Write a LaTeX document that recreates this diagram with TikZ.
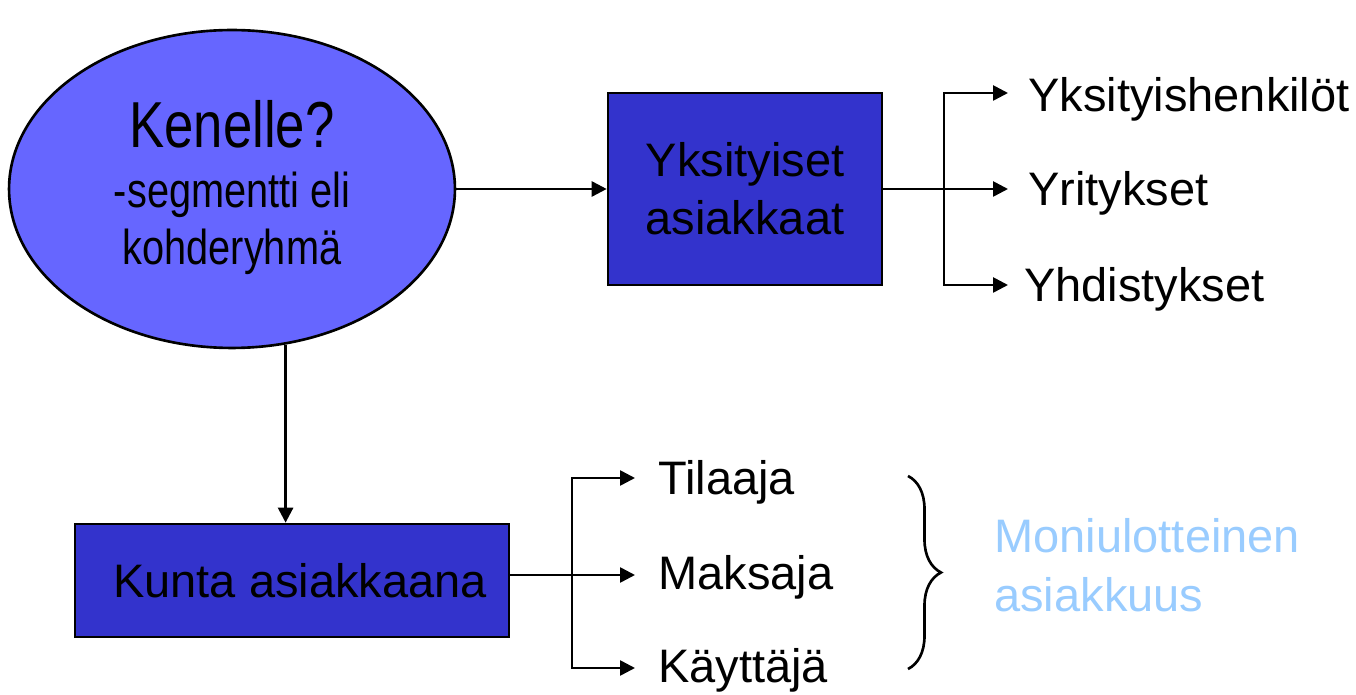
\documentclass[tikz,border=0pt]{standalone}
\usepackage{fontspec}
\setmainfont{Liberation Sans}
\newfontfamily\narrowsans[FakeStretch=0.81]{Liberation Sans}
\usetikzlibrary{arrows.meta,shapes.geometric,decorations.pathreplacing}
\definecolor{ellblue}{HTML}{6666FF}
\definecolor{boxblue}{HTML}{3333CC}
\definecolor{paleblue}{HTML}{99CCFF}

\begin{document}
\begin{tikzpicture}[x=0.02cm,y=-0.02cm,line width=1.5pt,
    >={Triangle[length=0.3cm,width=0.3cm]},
    txt/.style={font=\fontsize{26.75pt}{33pt}\selectfont,inner sep=0pt},
    ovaltxt/.style={font=\narrowsans\fontsize{27.9pt}{32pt}\selectfont,inner sep=0pt,anchor=base},
    bluebox/.style={draw,fill=boxblue,inner sep=0pt,align=center}]
    \useasboundingbox (0,0) rectangle (1356,695);

    % Ellipse
    \node[ellipse,draw,fill=ellblue,minimum width=8.92cm,minimum height=6.36cm,inner sep=0pt] (seg) at (232,189) {};
    \node[ovaltxt,font=\narrowsans\fontsize{37pt}{40pt}\selectfont] (kenelle) at (232,148) {Kenelle?};
    \node[ovaltxt] (segm) at (232,208) {-segmentti eli};
    \node[ovaltxt] (kohde) at (232,265) {kohderyhmä};

    % Boxes
    \node[bluebox,txt,minimum width=5.48cm,minimum height=3.84cm] (yks) at (745,189) {Yksityiset\\asiakkaat};
    \node[bluebox,minimum width=8.68cm,minimum height=2.26cm] (kunta) at (292,580.5) {};
    \node[txt,anchor=base] (kuntatxt) at (300,598) {Kunta asiakkaana};

    % Leaves
    \node[txt,anchor=base west] (henk) at (1027,112) {Yksityishenkilöt};
    \node[txt,anchor=base west] (yrit) at (1027,206) {Yritykset};
    \node[txt,anchor=base west] (yhd) at (1023,302) {Yhdistykset};
    \node[txt,anchor=base west] (tilaaja) at (657,495) {Tilaaja};
    \node[txt,anchor=base west] (maksaja) at (657,590) {Maksaja};
    \node[txt,anchor=base west] (kayttaja) at (657,683) {Käyttäjä};
    \node[txt,anchor=west,align=left,text=paleblue,font=\fontsize{26.75pt}{33.6pt}\selectfont] (moni) at (993,565.5) {Moniulotteinen\\asiakkuus};

    % Arrow ends
    \coordinate (yfork) at (944,189);
    \coordinate (t1) at (1008,93);
    \coordinate (t2) at (1008,189);
    \coordinate (t3) at (1008,285);
    \coordinate (kfork) at (572,575);
    \coordinate (l1) at (635,478);
    \coordinate (l2) at (635,575);
    \coordinate (l3) at (635,668);

    % Arrows
    \draw[->] (seg.east) -- (yks.west);
    \draw[->] (seg.-71.4) -- (seg.-71.4 |- kunta.north);
    \draw[->] (yks.east) -- (t2);
    \draw[<->] (t1) -| (yfork) |- (t3);
    \draw[->] (kunta.east |- l2) -- (l2);
    \draw[<->] (l1) -| (kfork) |- (l3);

    % Brace
    \draw[decorate,decoration={brace,amplitude=0.66cm}] (908,476) -- (908,669);

\end{tikzpicture}
\end{document}
